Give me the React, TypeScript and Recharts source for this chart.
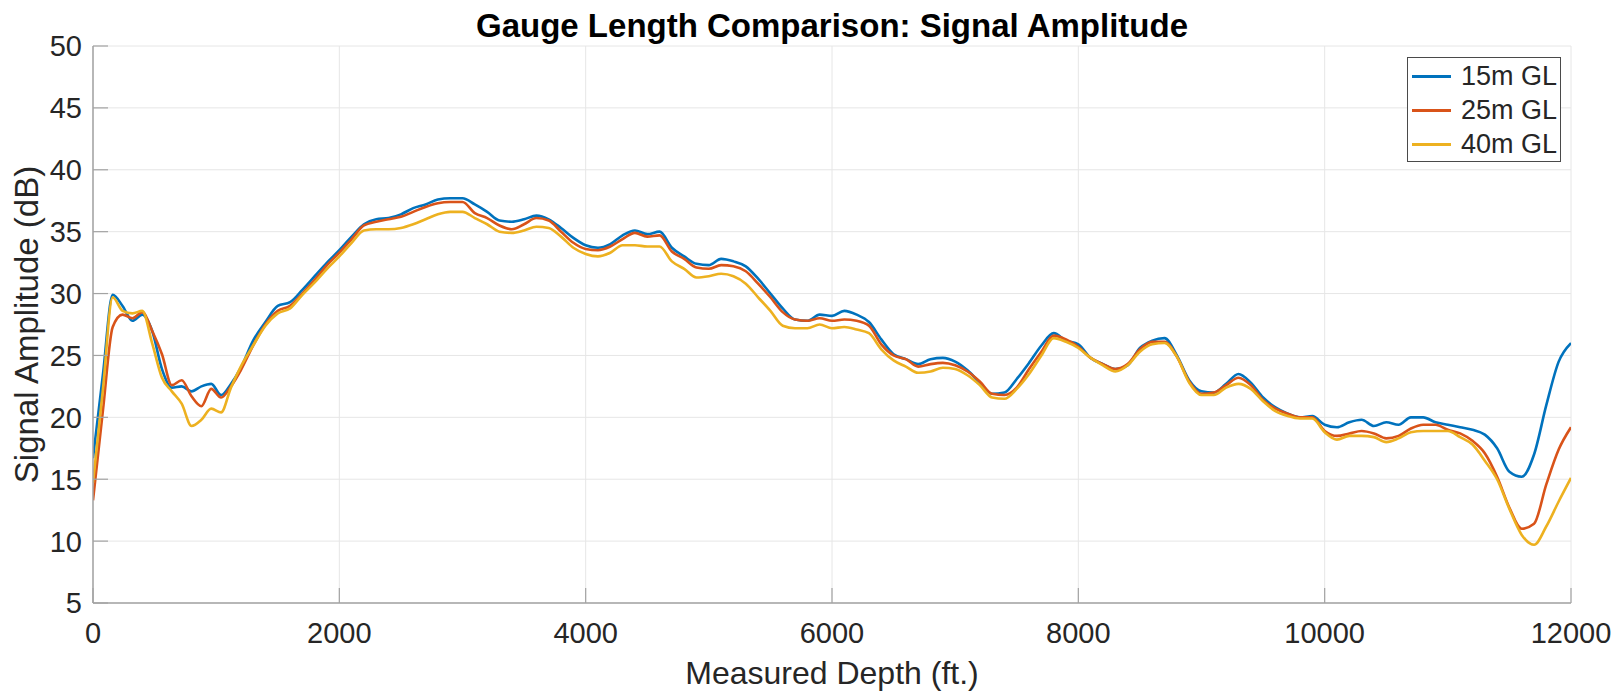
import { LineChart, Line, XAxis, YAxis, CartesianGrid, Legend } from 'recharts';

const DEPTHS = [
  0, 80, 160, 240, 320, 400, 480, 560, 640, 720, 800, 880, 960, 1040, 1120, 1200,
  1300, 1400, 1500, 1600, 1700, 1800, 1900, 2000,
  2100, 2200, 2300, 2400, 2500, 2600, 2700, 2800, 2900, 3000,
  3100, 3200, 3300, 3400, 3500, 3600, 3700, 3800, 3900, 4000,
  4100, 4200, 4300, 4400, 4500, 4600, 4700, 4800, 4900, 5000,
  5100, 5200, 5300, 5400, 5500, 5600, 5700, 5800, 5900, 6000,
  6100, 6200, 6300, 6400, 6500, 6600, 6700, 6800, 6900, 7000,
  7100, 7200, 7300, 7400, 7500, 7600, 7700, 7800, 7900, 8000,
  8100, 8200, 8300, 8400, 8500, 8600, 8700, 8800, 8900, 9000,
  9100, 9200, 9300, 9400, 9500, 9600, 9700, 9800, 9900, 10000,
  10100, 10200, 10300, 10400, 10500, 10600, 10700, 10800, 10900, 11000,
  11100, 11200, 11300, 11400, 11500, 11600, 11700, 11800, 11900, 12000,
];

// 15m gauge length
const GL15 = [
  16.7, 23.4, 29.9, 29.0, 27.8, 28.3, 27.0, 23.9, 22.4, 22.5, 22.1, 22.5, 22.7, 21.8, 22.7, 24.0,
  26.2, 27.7, 29.0, 29.3, 30.3, 31.4, 32.5, 33.5,
  34.6, 35.6, 36.0, 36.1, 36.4, 36.9, 37.2, 37.6, 37.7, 37.7,
  37.2, 36.6, 35.9, 35.8, 36.0, 36.3, 36.0, 35.3, 34.5, 33.9,
  33.7, 34.0, 34.7, 35.1, 34.8, 35.0, 33.7, 33.0, 32.4, 32.3,
  32.8, 32.6, 32.2, 31.2, 30.0, 28.8, 27.9, 27.8, 28.3, 28.2,
  28.6, 28.3, 27.7, 26.3, 25.1, 24.7, 24.3, 24.7, 24.8, 24.5,
  23.8, 22.8, 21.9, 22.0, 23.1, 24.4, 25.8, 26.8, 26.2, 25.9,
  24.8, 24.3, 23.9, 24.2, 25.6, 26.2, 26.4, 25.0, 23.0, 22.1,
  22.0, 22.7, 23.5, 22.8, 21.6, 20.8, 20.3, 20.0, 20.1, 19.4,
  19.2, 19.6, 19.8, 19.3, 19.6, 19.4, 20.0, 20.0, 19.6, 19.4,
  19.2, 19.0, 18.6, 17.5, 15.6, 15.2, 17.0, 21.0, 24.5, 26.0,
];

// 25m gauge length
const GL25 = [
  13.3, 20.5, 27.3, 28.3, 28.0, 28.5, 27.0, 25.1, 22.6, 23.0, 21.7, 20.9, 22.3, 21.6, 22.5, 23.8,
  25.8, 27.5, 28.6, 29.0, 30.0, 31.1, 32.3, 33.3,
  34.4, 35.5, 35.8, 36.0, 36.2, 36.6, 37.0, 37.3, 37.4, 37.4,
  36.5, 36.1, 35.5, 35.2, 35.6, 36.1, 35.9, 35.0, 34.1, 33.6,
  33.5, 33.8, 34.4, 34.9, 34.6, 34.7, 33.4, 32.8, 32.1, 32.0,
  32.3, 32.2, 31.8, 30.8, 29.7, 28.5, 27.9, 27.8, 28.0, 27.8,
  27.9, 27.8, 27.4, 25.9, 25.0, 24.7, 24.1, 24.3, 24.4, 24.2,
  23.7, 22.9, 21.9, 21.8, 22.4, 23.9, 25.3, 26.6, 26.3, 25.7,
  24.8, 24.3, 23.9, 24.3, 25.5, 26.1, 26.1, 24.9, 22.9, 21.9,
  22.0, 22.6, 23.2, 22.6, 21.4, 20.7, 20.3, 20.0, 20.0, 18.9,
  18.5, 18.7, 18.9, 18.7, 18.3, 18.5, 19.1, 19.4, 19.4, 19.0,
  18.7, 18.1, 17.1, 15.2, 12.7, 11.0, 11.4, 14.6, 17.4, 19.2,
];

// 40m gauge length
const GL40 = [
  14.7, 22.2, 29.7, 28.6, 28.4, 28.6, 26.0, 23.2, 22.1, 21.1, 19.3, 19.8, 20.7, 20.4, 22.4, 24.1,
  25.8, 27.4, 28.4, 28.8, 29.9, 30.9, 32.0, 33.0,
  34.1, 35.1, 35.2, 35.2, 35.3, 35.6, 36.0, 36.4, 36.6, 36.6,
  36.1, 35.6, 35.0, 34.9, 35.1, 35.4, 35.3, 34.6, 33.7, 33.2,
  33.0, 33.3, 33.9, 33.9, 33.8, 33.8, 32.6, 32.0, 31.3, 31.4,
  31.6, 31.4, 30.8, 29.7, 28.6, 27.4, 27.2, 27.2, 27.5, 27.2,
  27.3, 27.1, 26.8, 25.5, 24.6, 24.1, 23.6, 23.7, 24.0, 23.9,
  23.4, 22.6, 21.6, 21.5, 22.3, 23.5, 25.0, 26.4, 26.1, 25.6,
  24.8, 24.2, 23.7, 24.2, 25.3, 25.9, 26.0, 24.9, 22.8, 21.8,
  21.8, 22.4, 22.7, 22.3, 21.3, 20.5, 20.1, 19.9, 19.9, 18.8,
  18.2, 18.5, 18.5, 18.4, 18.0, 18.3, 18.8, 18.9, 18.9, 18.9,
  18.4, 17.8, 16.5, 15.0, 12.6, 10.5, 9.7, 11.2, 13.2, 15.1,
];

const X_TICKS = [0, 2000, 4000, 6000, 8000, 10000, 12000];
const Y_TICKS = [5, 10, 15, 20, 25, 30, 35, 40, 45, 50];

const data = DEPTHS.map((depth, i) => ({
  depth,
  gl15: GL15[i],
  gl25: GL25[i],
  gl40: GL40[i],
}));

const FONT = "'Liberation Sans', Arial, Helvetica, sans-serif";
const AXIS_COLOR = '#a3a3a3';
const TEXT_COLOR = '#262626';
const GRID_COLOR = '#e6e6e6';
const TICK_LEN = 15;
const Y_GAP = 11;
const X_GAP = 19;

const W = 1619;
const H = 691;
const M = { top: 46, right: 48, bottom: 48, left: 33 };
const Y_AXIS_W = 60;
const X_AXIS_H = 40;
const PLOT_LEFT = M.left + Y_AXIS_W;
const PLOT_RIGHT = W - M.right;
const PLOT_TOP = M.top;
const PLOT_BOTTOM = H - M.bottom - X_AXIS_H;

const YTick = ({ x, y, payload }: any) => (
  <g>
    <line x1={x + Y_GAP} x2={x + Y_GAP + TICK_LEN} y1={y} y2={y} stroke={AXIS_COLOR} strokeWidth={1.2} />
    <text x={x} y={y} dy="0.36em" textAnchor="end" fontFamily={FONT} fontSize={29} fill={TEXT_COLOR}>
      {payload.value}
    </text>
  </g>
);

const XTick = ({ x, y, payload }: any) => (
  <g>
    <line x1={x} x2={x} y1={y - X_GAP} y2={y - X_GAP - TICK_LEN} stroke={AXIS_COLOR} strokeWidth={1.2} />
    <text x={x} y={y} dy="0.71em" textAnchor="middle" fontFamily={FONT} fontSize={29} fill={TEXT_COLOR}>
      {payload.value}
    </text>
  </g>
);

const LegendBox = ({ payload }: any) => (
  <div
    style={{
      width: 154,
      height: 105,
      boxSizing: 'border-box',
      border: '1px solid #4a4a4a',
      background: '#fff',
      paddingTop: 1,
      fontFamily: FONT,
    }}
  >
    {(payload || []).map((entry: any) => (
      <div key={entry.value} style={{ display: 'flex', alignItems: 'center', height: 34.3 }}>
        <span style={{ display: 'inline-block', width: 39, height: 3, background: entry.color, marginLeft: 4 }} />
        <span style={{ marginLeft: 10, fontSize: 27, lineHeight: 1, color: TEXT_COLOR }}>{entry.value}</span>
      </div>
    ))}
  </div>
);

const Titles = () => {
  const cx = (PLOT_LEFT + PLOT_RIGHT) / 2;
  const cy = (PLOT_TOP + PLOT_BOTTOM) / 2;
  return (
    <g>
      <text x={cx} y={37} textAnchor="middle" fontFamily={FONT} fontSize={33} fontWeight="bold" fill="#000">
        Gauge Length Comparison: Signal Amplitude
      </text>
      <text x={cx} y={684} textAnchor="middle" fontFamily={FONT} fontSize={32} fill={TEXT_COLOR}>
        Measured Depth (ft.)
      </text>
      <text
        x={38}
        y={cy}
        textAnchor="middle"
        fontFamily={FONT}
        fontSize={33}
        fill={TEXT_COLOR}
        transform={`rotate(-90 38 ${cy})`}
      >
        Signal Amplitude (dB)
      </text>
    </g>
  );
};

export default function App() {
  return (
    <div style={{ position: 'absolute', left: 0, top: 0, width: W, height: H, background: '#fff' }}>
      <LineChart width={W} height={H} data={data} margin={M}>
        <CartesianGrid stroke={GRID_COLOR} strokeWidth={1} />
        <XAxis
          dataKey="depth"
          type="number"
          domain={[0, 12000]}
          ticks={X_TICKS}
          interval={0}
          height={X_AXIS_H}
          tickSize={0}
          tickMargin={X_GAP}
          tick={<XTick />}
          axisLine={{ stroke: AXIS_COLOR, strokeWidth: 1.5 }}
          allowDataOverflow
        />
        <YAxis
          type="number"
          domain={[5, 50]}
          ticks={Y_TICKS}
          interval={0}
          width={Y_AXIS_W}
          tickSize={0}
          tickMargin={Y_GAP}
          tick={<YTick />}
          axisLine={{ stroke: AXIS_COLOR, strokeWidth: 1.5 }}
          allowDataOverflow
        />
        <Legend
          layout="vertical"
          align="center"
          verticalAlign="middle"
          content={<LegendBox />}
          wrapperStyle={{ top: 57, left: 1407, width: 154, height: 105, bottom: 'auto', right: 'auto' }}
        />
        <Line type="monotone" dataKey="gl15" name="15m GL" stroke="#0072BD" strokeWidth={2.6} dot={false} isAnimationActive={false} />
        <Line type="monotone" dataKey="gl25" name="25m GL" stroke="#D95319" strokeWidth={2.6} dot={false} isAnimationActive={false} />
        <Line type="monotone" dataKey="gl40" name="40m GL" stroke="#EDB120" strokeWidth={2.6} dot={false} isAnimationActive={false} />
        <Titles />
      </LineChart>
    </div>
  );
}
